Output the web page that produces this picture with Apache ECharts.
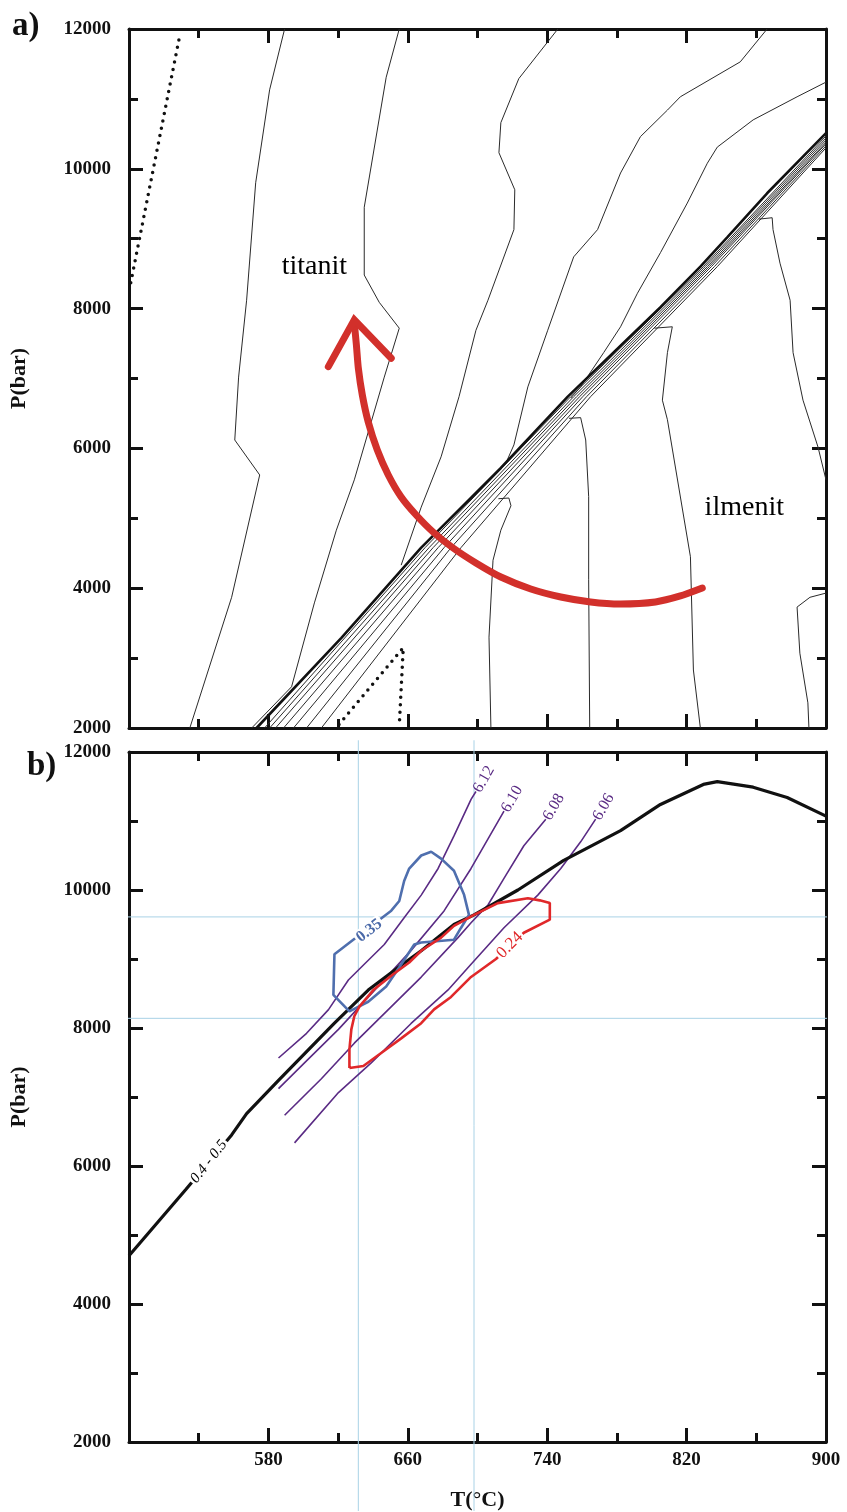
<!DOCTYPE html>
<html>
<head>
<meta charset="utf-8">
<script src="https://cdn.jsdelivr.net/npm/echarts@6/dist/echarts.min.js"></script>
<style>
html, body { margin: 0; padding: 0; background: #fff; }
#chart { width: 847px; height: 1512px; }
</style>
</head>
<body>
<div id="chart"></div>
<script>
// T (°C), P (bar) pairs
const tempTickLabels = [580, 660, 740, 820, 900];
const presTickLabels = [2000, 4000, 6000, 8000, 10000, 12000];

// ---- panel a ----
const aDottedTop = [[501, 8370], [529, 11890]];
const aDottedLow = [[620.5, 2050], [657.4, 3150], [655.1, 2030]];
const aLine1 = [[589.3, 12000], [580.7, 11130], [572.7, 9800], [567.5, 8120], [562.9, 7020], [560.7, 6120], [575.0, 5620], [558.9, 3870], [534.9, 2000]];
const aLine2 = [[655.1, 12000], [647.6, 11310], [635.0, 9450], [635.0, 8480], [643.6, 8090], [655.1, 7720], [646.5, 7020], [629.3, 5550], [619.0, 4830], [606.4, 3790], [593.3, 2590], [570.4, 2000]];
const aLine3 = [[746.1, 12000], [723.7, 11290], [713.4, 10660], [712.3, 10230], [721.4, 9700], [720.9, 9130], [706.0, 8120], [699.1, 7690], [689.4, 6740], [679.1, 5880], [667.7, 5160], [656.2, 4330]];
const aLine4 = [[866.2, 12000], [850.8, 11530], [816.4, 11030], [809.0, 10840], [793.5, 10460], [782.1, 9940], [768.9, 9130], [755.2, 8740], [740.3, 7690], [728.9, 6880], [720.9, 6050], [716.3, 5790]];
const aLine5 = [[900, 11240], [883.4, 11030], [858.2, 10700], [837.6, 10310], [831.9, 10080], [820.4, 9510], [805.0, 8800], [791.8, 8220], [782.1, 7740], [772.4, 7370], [759.2, 6880], [753.5, 6720]];
const aThick = [[573.2, 2000], [621.9, 3290], [667.7, 4580], [713.4, 5720], [751.8, 6740], [805.0, 8020], [827.9, 8600], [843.3, 9020], [866.2, 9650], [900, 10510]];
const aBundle1 = [[577.8, 2000], [669.9, 4580], [753.5, 6740], [829.6, 8600], [900, 10470]];
const aBundle2 = [[580.7, 2000], [672.2, 4580], [755.2, 6740], [830.7, 8600], [900, 10440]];
const aBundle3 = [[584.1, 2000], [674.5, 4580], [756.9, 6740], [831.9, 8600], [900, 10410]];
const aBundle4 = [[588.7, 2000], [677.4, 4580], [758.6, 6740], [833.0, 8600], [900, 10380]];
const aBundle5 = [[594.4, 2000], [680.8, 4580], [760.4, 6740], [834.2, 8600], [900, 10360]];
const aBundle6 = [[601.9, 2000], [684.8, 4580], [762.6, 6740], [835.9, 8600], [900, 10330]];
const aBundle7 = [[610.4, 2000], [690.5, 4580], [764.9, 6740], [837.6, 8600], [900, 10300]];
const aHookA = [[861.5, 9280], [869.1, 9300], [869.6, 9130], [873.6, 8650], [879.4, 8120], [881.1, 7370], [886.8, 6690], [895.4, 6020], [900, 5550]];
const aHookB = [[801.5, 7720], [811.8, 7740], [809.0, 7370], [806.1, 6690], [809.0, 6410], [822.2, 4450], [823.9, 2830], [827.9, 2000]];
const aHookC = [[752.5, 6430], [759.2, 6440], [762.1, 6120], [763.8, 5310], [763.8, 4120], [764.4, 2000]];
const aHookD = [[712, 5280], [718, 5290], [719.2, 5180], [713.4, 4830], [708.9, 4400], [706.6, 3300], [707.7, 2000]];
const aHookE = [[890.2, 2000], [889.6, 2360], [885.0, 3070], [883.4, 3730], [890.8, 3870], [900, 3930]];
const aArrowPath = [[829.0, 4003], [816.4, 3889], [802.1, 3803], [782.1, 3774], [764.9, 3803], [747.8, 3874], [730.6, 3989], [713.4, 4160], [699.1, 4361], [686.0, 4575], [674.5, 4804], [664.8, 5047], [656.2, 5305], [648.8, 5620], [642.5, 5977], [637.3, 6378], [633.9, 6764], [631.6, 7150], [630.5, 7479], [629.3, 7794]];
const aArrowHead = [[614.4, 7170], [629.3, 7840], [650.5, 7290]];
const aFieldNames = ['titanit', 'ilmenit'];
const aFieldAt = [[606.4, 8595], [853.1, 5150]];

// ---- panel b ----
const bThick = [[500, 4700], [532.6, 5660], [558.9, 6450], [567.5, 6760], [585.8, 7240], [617.9, 8070], [637.3, 8550], [656.2, 8910], [667.7, 9120], [686.5, 9500], [698, 9640], [723.2, 10000], [749.5, 10430], [782.1, 10860], [805, 11240], [829.6, 11530], [837.6, 11570], [858.2, 11490], [877.7, 11340], [900, 11070]];
const bBlue = [[628.7, 9280], [650.5, 9700], [655.1, 9840], [657.9, 10130], [660.8, 10310], [667.7, 10500], [673.4, 10555], [679.1, 10455], [686.5, 10280], [692.3, 9930], [695.1, 9640], [690.5, 9450], [686.5, 9280], [667.7, 9240], [663.7, 9210], [656.2, 8920], [647.6, 8600], [637.3, 8380], [626.5, 8240], [617.3, 8480], [617.9, 9070], [628.7, 9280]];
const bRed = [[626.5, 7420], [634.5, 7450], [646.5, 7670], [656.2, 7850], [667.7, 8070], [675.1, 8270], [684.8, 8450], [696.3, 8740], [710.6, 9000], [726.6, 9380], [741.5, 9570], [741.5, 9810], [735.7, 9850], [728.9, 9880], [711.7, 9810], [698, 9640], [686.5, 9480], [679.1, 9310], [667.7, 9120], [660.8, 8950], [651.6, 8780], [640.2, 8550], [632.2, 8310], [629.3, 8170], [627.6, 7980], [626.5, 7690], [626.5, 7420]];
const bIso612 = [[585.8, 7565], [601.9, 7923], [614.5, 8266], [625.9, 8695], [635.0, 8924], [646.5, 9210], [657.9, 9597], [667.7, 9926], [677.4, 10312], [686.5, 10784], [696.3, 11313], [699.1, 11428]];
const bIso610 = [[585.8, 7122], [600.7, 7494], [620.2, 7980], [639.0, 8495], [661.9, 9125], [680.8, 9697], [696.3, 10312], [715.2, 11142]];
const bIso608 = [[589.3, 6735], [610.4, 7265], [629.3, 7780], [648.8, 8266], [667.7, 8738], [688.8, 9310], [696.3, 9525], [706.0, 9783], [715.2, 10169], [726.6, 10641], [739.2, 11027]];
const bIso606 = [[595.0, 6335], [620.2, 7064], [639.0, 7494], [661.9, 8066], [683.1, 8552], [696.3, 8924], [715.2, 9453], [734.6, 9926], [747.8, 10312], [759.2, 10698], [767.8, 11027]];
const bIsoNames = ['6.12', '6.10', '6.08', '6.06'];
const bGuideT = [631.6, 698];
const bGuideP = [9610, 8140];
const bGuideSpanP = [12170, 1000];
const bGuideSpanT = [436, 911];
const bContourNames = ['0.35', '0.24', '0.4 - 0.5'];
const bContourAt = [[637.9, 9411], [718.6, 9200], [545.8, 6063]];

const SERIF = '"Liberation Serif", "DejaVu Serif", serif';
const INK = '#111';

function tempAxis(grid, pos, withLabels) {
  return {
    type: 'value', gridIndex: grid, position: pos, min: 500, max: 900, interval: 80,
    axisLine: { show: true, onZero: false, lineStyle: { color: INK, width: 3 } },
    axisTick: { show: true, inside: true, length: 14, lineStyle: { color: INK, width: 3 } },
    minorTick: { show: true, splitNumber: 2, length: 9, lineStyle: { color: INK, width: 3 } },
    splitLine: { show: false },
    axisLabel: {
      show: withLabels, margin: 9, color: INK, fontFamily: SERIF, fontSize: 19, fontWeight: 'bold',
      formatter: v => tempTickLabels.includes(v) ? String(v) : ''
    }
  };
}

function presAxis(grid, pos, withLabels) {
  return {
    type: 'value', gridIndex: grid, position: pos, min: 2000, max: 12000, interval: 2000,
    axisLine: { show: true, onZero: false, lineStyle: { color: INK, width: 3 } },
    axisTick: { show: true, inside: true, length: 14, lineStyle: { color: INK, width: 3 } },
    minorTick: { show: true, splitNumber: 2, length: 9, lineStyle: { color: INK, width: 3 } },
    splitLine: { show: false },
    axisLabel: {
      show: withLabels, margin: 18, color: INK, fontFamily: SERIF, fontSize: 19, fontWeight: 'bold',
      formatter: v => presTickLabels.includes(v) ? String(v) : ''
    }
  };
}

function line(data, panel, color, width, z, extra) {
  const idx = panel === 'a' ? 0 : 2;
  return Object.assign({
    type: 'line', xAxisIndex: idx, yAxisIndex: idx, data: data,
    showSymbol: false, symbol: 'none', silent: true, z: z,
    lineStyle: { color: color, width: width }
  }, extra || {});
}

function textMark(at, text, panel, style) {
  const idx = panel === 'a' ? 0 : 2;
  return {
    type: 'scatter', xAxisIndex: idx, yAxisIndex: idx, symbolSize: 0, silent: true, z: 10,
    itemStyle: { color: style.color },
    data: [at],
    label: Object.assign({ show: true, formatter: text, fontFamily: SERIF, textBorderWidth: 0, opacity: 1 }, style)
  };
}

const chart = echarts.init(document.getElementById('chart'), null, { renderer: 'canvas' });

const series = [];
// panel a
const thinA = [aLine1, aLine2, aLine3, aLine4, aLine5, aBundle1, aBundle2, aBundle3, aBundle4,
  aBundle5, aBundle6, aBundle7, aHookA, aHookB, aHookC, aHookD, aHookE];
thinA.forEach(d => series.push(line(d, 'a', '#2a2a2a', 1, 2)));
series.push(line(aThick, 'a', INK, 2.6, 3));
series.push(line(aDottedTop, 'a', INK, 3.5, 3, { lineStyle: { color: INK, width: 3.5, type: [0, 7.5], cap: 'round' } }));
series.push(line(aDottedLow, 'a', INK, 3.5, 3, { lineStyle: { color: INK, width: 3.5, type: [0, 7.5], cap: 'round' } }));
series.push(line(aArrowPath, 'a', '#d2302b', 7, 5, { smooth: 0.2, lineStyle: { color: '#d2302b', width: 7, cap: 'round' } }));
series.push(line(aArrowHead, 'a', '#d2302b', 7, 5, { lineStyle: { color: '#d2302b', width: 7, cap: 'round', join: 'miter' } }));
aFieldNames.forEach((n, i) => series.push(textMark(aFieldAt[i], n, 'a',
  { position: 'inside', color: '#000', fontSize: 28 })));

// panel b: guide lines reach past the frame
bGuideT.forEach(t => series.push(line([[t, bGuideSpanP[0]], [t, bGuideSpanP[1]]], 'b', '#a9d2e6', 1, 1, { clip: false })));
bGuideP.forEach(p => series.push(line([[bGuideSpanT[0], p], [bGuideSpanT[1], p]], 'b', '#a9d2e6', 1, 1, { clip: false })));
const isos = [bIso612, bIso610, bIso608, bIso606];
isos.forEach((d, i) => {
  series.push(line(d, 'b', '#5a2b84', 1.6, 2));
  series.push(textMark(d[d.length - 1], bIsoNames[i], 'b',
    { position: 'right', distance: 1, rotate: 60, color: '#5a2b84', fontSize: 16 }));
});
series.push(line(bThick, 'b', INK, 3.2, 3));
series.push(line(bBlue, 'b', '#4f6fae', 2.6, 4));
series.push(line(bRed, 'b', '#e0282a', 2.6, 4));
series.push(textMark(bContourAt[0], bContourNames[0], 'b',
  { position: 'inside', rotate: 38, color: '#4a69a8', fontSize: 16, fontWeight: 'bold', backgroundColor: '#fff', padding: [0, 2] }));
series.push(textMark(bContourAt[1], bContourNames[1], 'b',
  { position: 'inside', rotate: 45, color: '#e0282a', fontSize: 17, backgroundColor: '#fff', padding: [0, 2] }));
series.push(textMark(bContourAt[2], bContourNames[2], 'b',
  { position: 'inside', rotate: 52, color: '#000', fontSize: 15, fontStyle: 'italic', backgroundColor: '#fff', padding: [0, 2] }));

chart.setOption({
  animation: false,
  backgroundColor: '#fff',
  grid: [
    { left: 127, right: 21, top: 29, height: 699 },
    { left: 127, right: 21, top: 752, height: 698 }
  ],
  xAxis: [
    tempAxis(0, 'bottom', false),
    tempAxis(0, 'top', false),
    Object.assign(tempAxis(1, 'bottom', true), {
      name: 'T(°C)', nameLocation: 'middle', nameGap: 47,
      nameTextStyle: { color: INK, fontFamily: SERIF, fontSize: 22, fontWeight: 'bold' }
    }),
    tempAxis(1, 'top', false)
  ],
  yAxis: [
    Object.assign(presAxis(0, 'left', true), {
      name: 'P(bar)', nameLocation: 'middle', nameGap: 99,
      nameTextStyle: { color: INK, fontFamily: SERIF, fontSize: 22, fontWeight: 'bold' }
    }),
    presAxis(0, 'right', false),
    Object.assign(presAxis(1, 'left', true), {
      name: 'P(bar)', nameLocation: 'middle', nameGap: 99,
      nameTextStyle: { color: INK, fontFamily: SERIF, fontSize: 22, fontWeight: 'bold' }
    }),
    presAxis(1, 'right', false)
  ],
  graphic: [
    { type: 'text', left: 12, top: 10, style: { text: 'a)', font: 'bold 33px ' + SERIF, fill: INK } },
    { type: 'text', left: 27, top: 750, style: { text: 'b)', font: 'bold 33px ' + SERIF, fill: INK } }
  ],
  series: series
});
</script>
</body>
</html>
